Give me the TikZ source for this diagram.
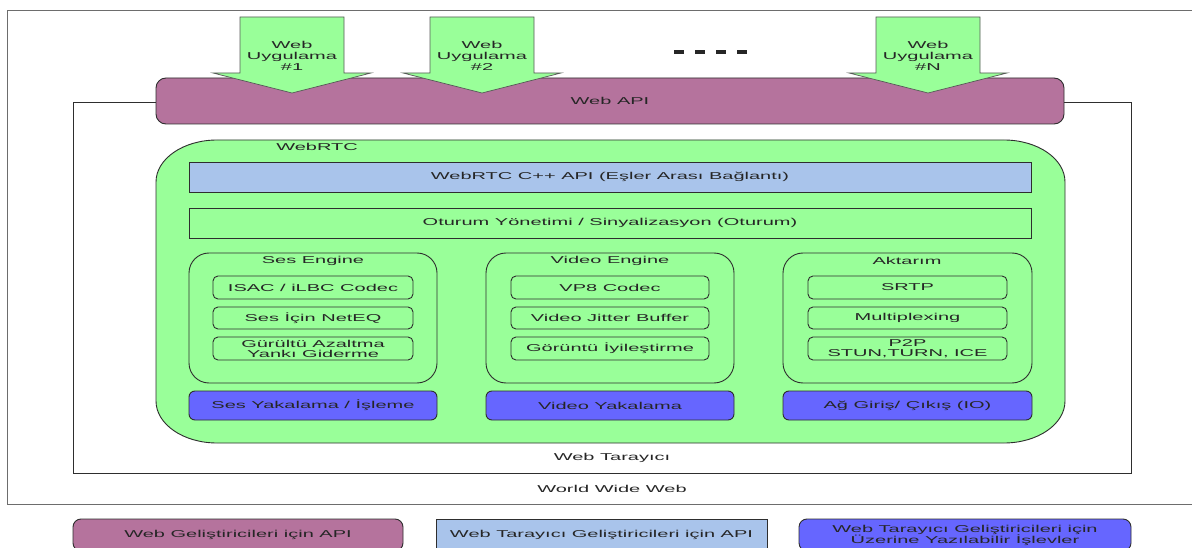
\documentclass[tikz,border=0pt]{standalone}
\usepackage{fontspec}
\setmainfont[FakeStretch=2.0]{Liberation Sans}

\definecolor{apipurple}{HTML}{B5739D}
\definecolor{rtcgreen}{HTML}{99FF99}
\definecolor{cppblue}{HTML}{A9C4EB}
\definecolor{ioblue}{HTML}{6666FF}
\definecolor{ink}{HTML}{262626}
\definecolor{edge}{HTML}{2E2E2E}

% rectangle node given by its corners: name, x1, y1, x2, y2, style, text
\newcommand\cornerbox[7]{%
  \node[#6, minimum width={#4-#2}, minimum height={#5-#3}]
    (#1) at ({(#2+#4)/2},{(#3+#5)/2}) {#7};}

% downward application arrow: name, centre x, text
\newcommand\apparrow[3]{%
  \filldraw[apparrow] (#2-52,17) -- (#2+52,17) -- (#2+52,73) -- (#2+79,73)
    -- (#2,93) -- (#2-79,73) -- (#2-52,73) -- cycle;
  \node[textonly] (#1) at (#2,56) {#3};}

\begin{document}
\begin{tikzpicture}[x=1pt,y=-1pt,
  font=\fontsize{10}{11}\selectfont, text=ink,
  frame/.style={draw=edge, line width=0.9pt, inner sep=0pt, align=center},
  textonly/.style={inner sep=0pt, align=center},
  apibox/.style={frame, fill=apipurple, rounded corners=10pt},
  cppbox/.style={frame, fill=cppblue},
  sessbox/.style={frame, fill=rtcgreen},
  enginebox/.style={frame, rounded corners=20pt},
  partbox/.style={frame, rounded corners=5pt},
  iobox/.style={frame, fill=ioblue, rounded corners=6pt},
  apparrow/.style={draw=edge!80, line width=0.7pt, fill=rtcgreen},
  keypurple/.style={frame, fill=apipurple, rounded corners=8pt},
  keyblue/.style={frame, fill=cppblue},
  keyio/.style={frame, fill=ioblue, rounded corners=8pt}]

\useasboundingbox (0,0) rectangle (1192,548);
\clip (0,0) rectangle (1192,548);
\fill[white] (0,0) rectangle (1192,548);

% World Wide Web and browser frames
\cornerbox{www}{7}{10}{1196}{504}{frame, draw=edge!70}{}
\node[textonly] (wwwlabel) at (612,489) {World Wide Web};
\cornerbox{browser}{73}{102}{1131}{473}{frame}{}
\node[textonly] (browserlabel) at (612,458) {Web Tarayıcı};

% Web API bar
\cornerbox{webapi}{156}{78}{1064}{124}{apibox}{Web API};

% applications
\apparrow{app1}{292}{Web\\Uygulama\\\#1}
\apparrow{app2}{482}{Web\\Uygulama\\\#2}
\apparrow{appn}{928}{Web\\Uygulama\\\#N}
\coordinate (dotsA) at (674,52);
\coordinate (dotsB) at (748,52);
\draw[ink, line width=4pt, dash pattern=on 10pt off 11pt] (dotsA) -- (dotsB);

% WebRTC block with elliptic corners
\cornerbox{webrtc}{156}{140}{1065}{443}{textonly}{}
\filldraw[fill=rtcgreen, draw=edge, line width=0.9pt]
  (217,140) -- (1004,140)
  arc[start angle=-90, end angle=0, x radius=61, y radius=42] -- (1065,401)
  arc[start angle=0, end angle=90, x radius=61, y radius=42] -- (217,443)
  arc[start angle=90, end angle=180, x radius=61, y radius=42] -- (156,182)
  arc[start angle=180, end angle=270, x radius=61, y radius=42] -- cycle;
\node[textonly] (webrtclabel) at (317,147) {WebRTC};

\cornerbox{cppapi}{189}{162}{1031}{192}{cppbox}{WebRTC C++ API (Eşler Arası Bağlantı)}
\cornerbox{session}{189}{208}{1031}{238}{sessbox}{Oturum Yönetimi / Sinyalizasyon (Oturum)}

% voice engine
\cornerbox{voice}{189}{253}{437}{383}{enginebox}{}
\node[textonly] (voicetitle) at (313,261) {Ses Engine};
\cornerbox{isac}{213}{276}{413}{299}{partbox}{ISAC / iLBC Codec}
\cornerbox{neteq}{213}{307}{413}{329}{partbox}{Ses İçin NetEQ}
\cornerbox{noise}{213}{337}{413}{360}{partbox, font=\fontsize{10}{10}\selectfont}{Gürültü Azaltma\\Yankı Giderme}

% video engine
\cornerbox{video}{486}{253}{734}{383}{enginebox}{}
\node[textonly] (videotitle) at (610,261) {Video Engine};
\cornerbox{vp8}{511}{276}{709}{299}{partbox}{VP8 Codec}
\cornerbox{jitter}{511}{307}{709}{329}{partbox}{Video Jitter Buffer}
\cornerbox{enhance}{511}{337}{709}{360}{partbox}{Görüntü İyileştirme}

% transport
\cornerbox{transport}{783}{253}{1032}{383}{enginebox}{}
\node[textonly] (transporttitle) at (907,261) {Aktarım};
\cornerbox{srtp}{808}{276}{1007}{299}{partbox}{SRTP}
\cornerbox{mux}{808}{307}{1007}{329}{partbox}{Multiplexing}
\cornerbox{p2p}{808}{337}{1007}{360}{partbox, font=\fontsize{10}{10}\selectfont}{P2P\\STUN,TURN, ICE}

% capture and I/O
\cornerbox{audiocap}{189}{391}{437}{420}{iobox}{Ses Yakalama / İşleme}
\cornerbox{videocap}{486}{391}{734}{420}{iobox}{Video Yakalama}
\cornerbox{netio}{783}{391}{1032}{420}{iobox}{Ağ Giriş/ Çıkış (IO)}

% key
\cornerbox{keyweb}{73}{519}{403}{551}{keypurple}{Web Geliştiricileri için API}
\cornerbox{keybrowser}{436}{519}{767}{551}{keyblue}{Web Tarayıcı Geliştiricileri için API}
\cornerbox{keyover}{799}{519}{1131}{551}{keyio}{Web Tarayıcı Geliştiricileri için\\Üzerine Yazılabilir İşlevler}

\end{tikzpicture}
\end{document}
